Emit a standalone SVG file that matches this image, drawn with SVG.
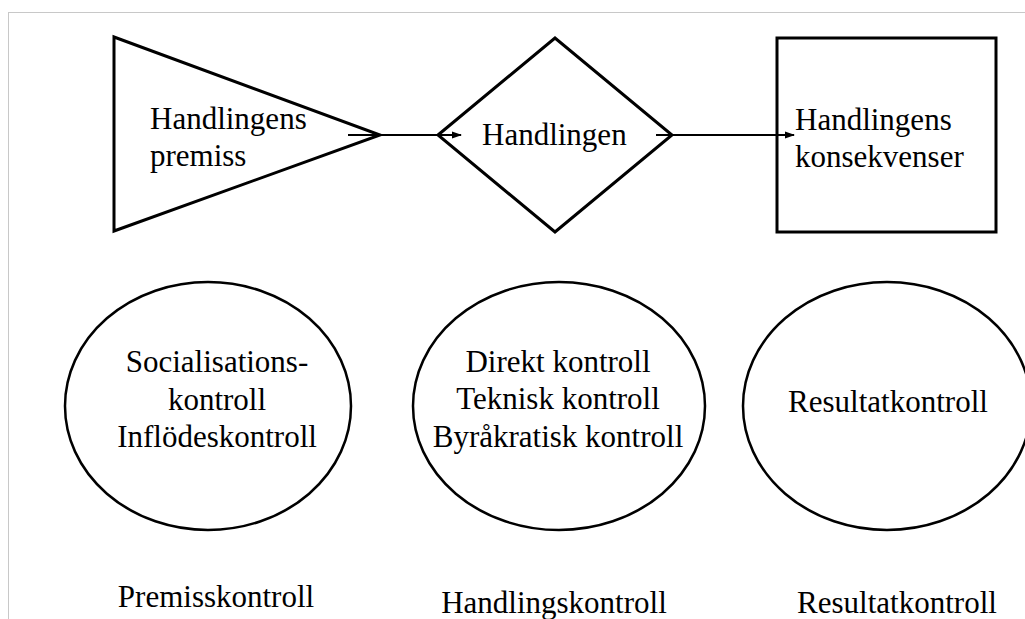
<svg xmlns="http://www.w3.org/2000/svg" width="1025" height="619" viewBox="0 0 1025 619">
<style>
.shape{fill:#fff;stroke:#000;stroke-width:3}
.ell{fill:#fff;stroke:#000;stroke-width:2.5}
.conn{fill:none;stroke:#000;stroke-width:2.2}
text{font-family:"Liberation Serif","Times New Roman",serif;font-size:31px;fill:#000}
.c{text-anchor:middle}
</style>
<defs>
<marker id="arr" markerWidth="10" markerHeight="8" refX="9" refY="4" orient="auto" markerUnits="userSpaceOnUse">
<path d="M0,0.5 L10,4 L0,7.5 Z" fill="#000"/>
</marker>
</defs>
<rect x="8.5" y="12.5" width="1100" height="700" fill="#fff" stroke="#c8c8c8" stroke-width="1"/>
<g id="premiss">
<polygon class="shape" points="114,37 380,135 114,231"/>
<text x="150" y="129">Handlingens</text>
<text x="150" y="166">premiss</text>
</g>
<g id="handlingen">
<polygon class="shape" points="438,135 555,38 672,135 555,232"/>
<text x="482" y="145">Handlingen</text>
</g>
<g id="konsekvenser">
<rect class="shape" x="777" y="38" width="219" height="194"/>
<text x="795" y="130">Handlingens</text>
<text x="795" y="167">konsekvenser</text>
</g>
<g id="connectors">
<line class="conn" x1="348" y1="135" x2="461" y2="135" marker-end="url(#arr)"/>
<line class="conn" x1="656" y1="135" x2="794" y2="135" marker-end="url(#arr)"/>
</g>
<g id="premisskontroll">
<ellipse class="ell" cx="208" cy="406" rx="143" ry="124"/>
<text class="c" x="217" y="372">Socialisations-</text>
<text class="c" x="217" y="410">kontroll</text>
<text class="c" x="217" y="447">Inflödeskontroll</text>
<text class="c" x="216" y="607">Premisskontroll</text>
</g>
<g id="handlingskontroll">
<ellipse class="ell" cx="559" cy="406" rx="146" ry="124"/>
<text class="c" x="558" y="372">Direkt kontroll</text>
<text class="c" x="558" y="409">Teknisk kontroll</text>
<text class="c" x="558" y="447">Byråkratisk kontroll</text>
<text class="c" x="554" y="613">Handlingskontroll</text>
</g>
<g id="resultatkontroll">
<ellipse class="ell" cx="887" cy="406" rx="144" ry="124"/>
<text class="c" x="888" y="412">Resultatkontroll</text>
<text class="c" x="897" y="613">Resultatkontroll</text>
</g>
</svg>
